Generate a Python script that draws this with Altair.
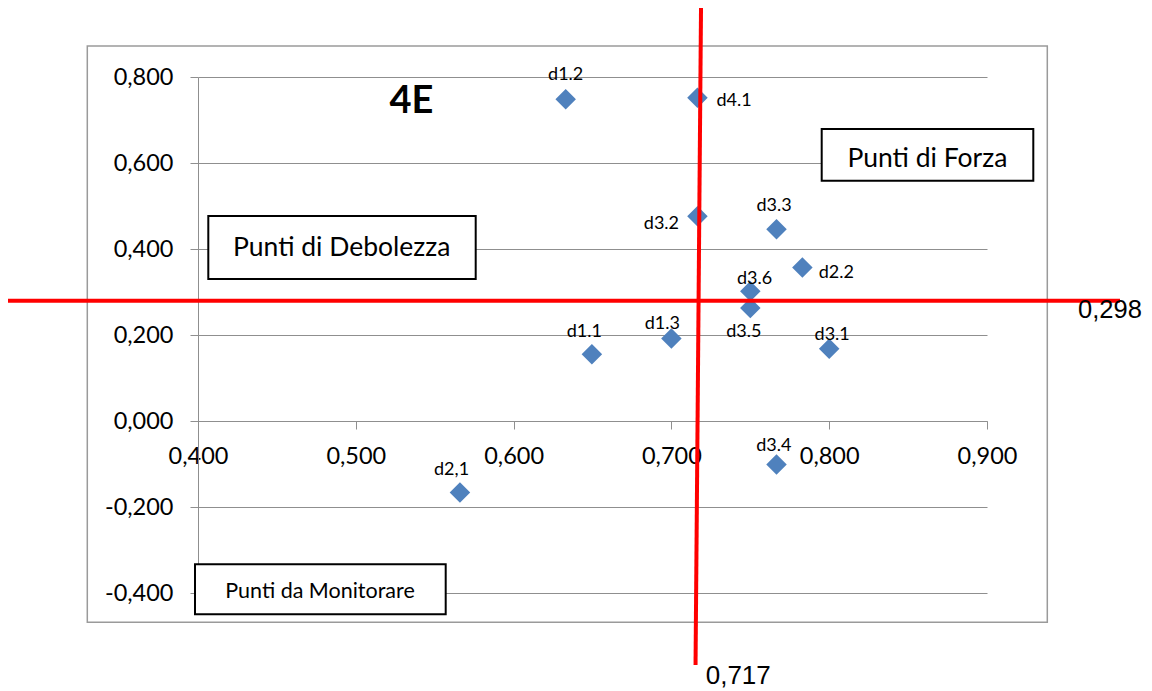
import altair as alt
import pandas as pd

# ---------------- data ----------------
labels = ["d1.2", "d4.1", "d3.2", "d3.3", "d2.2", "d3.6", "d3.5", "d3.1", "d1.1", "d1.3", "d3.4", "d2,1"]
x_vals = [0.633, 0.7165, 0.7165, 0.7666, 0.783, 0.750, 0.750, 0.800, 0.6496, 0.700, 0.7666, 0.566]
y_vals = [0.748, 0.752, 0.476, 0.446, 0.357, 0.302, 0.263, 0.168, 0.155, 0.192, -0.101, -0.1665]
x_ticks = [0.4, 0.5, 0.6, 0.7, 0.8, 0.9]
y_ticks = [-0.4, -0.2, 0.0, 0.2, 0.4, 0.6, 0.8]
threshold_x = 0.717
threshold_y = 0.298
title_text = "4E"
box_forza = "Punti di Forza"
box_debolezza = "Punti di Debolezza"
box_monitorare = "Punti da Monitorare"

# ---------------- layout ----------------
W, H = 789, 516
X_DOM = [0.4, 0.9]
Y_DOM = [-0.4, 0.8]
PX_X = W / (X_DOM[1] - X_DOM[0])
PX_Y = H / (Y_DOM[1] - Y_DOM[0])
GRAY = "#8f8f8f"
BLUE = "#4F81BD"
FONT = "Lato"

# label offsets in pixels (text centre / baseline relative to the marker)
label_offsets = {
    "d1.2": (0, -19), "d4.1": (36.6, 8.4), "d3.2": (-36, 12.3), "d3.3": (-2.4, -18.3),
    "d2.2": (34, 10.4), "d3.6": (4.3, -7.4), "d3.5": (-6.4, 29), "d3.1": (3, -8.3),
    "d1.1": (-7.6, -17.3), "d1.3": (-9, -9.3), "d3.4": (-2.7, -13.6), "d2,1": (-8.4, -17.3),
}

df = pd.DataFrame({"label": labels, "x": x_vals, "y": y_vals})
df["lx"] = [x + label_offsets[l][0] / PX_X for l, x in zip(labels, x_vals)]
df["ly"] = [y - label_offsets[l][1] / PX_Y for l, y in zip(labels, y_vals)]

one = alt.Data(values=[{}])

label_expr = "(datum.value < 0 ? '-' : '') + replace(format(abs(datum.value), '.3f'), '.', ',')"

xscale = alt.Scale(domain=X_DOM, nice=False, zero=False)
yscale = alt.Scale(domain=Y_DOM, nice=False, zero=False)

x_axis = alt.Axis(values=x_ticks, labelExpr=label_expr, offset=-172, title=None, grid=False,
                  labelFont=FONT, labelFontSize=23.5, labelColor="black", labelPadding=15,
                  labelFlush=False, labelOverlap=False, tickSize=8, tickColor=GRAY,
                  domainColor=GRAY, tickWidth=1, domainWidth=1)
y_axis = alt.Axis(values=y_ticks, labelExpr=label_expr, title=None, grid=True, gridColor=GRAY,
                  gridWidth=1, gridOpacity=1,
                  labelFont=FONT, labelFontSize=23.5, labelColor="black", labelPadding=17,
                  labelFlush=False, labelOverlap=False, tickSize=8, tickColor=GRAY,
                  domainColor=GRAY, tickWidth=1, domainWidth=1)

# chart-area frame
frame = alt.Chart(one).mark_rect(fill=None, stroke="#9a9a9a", strokeWidth=1.5).encode(
    x=alt.value(-110.7), x2=alt.value(849.3), y=alt.value(-31), y2=alt.value(545.3))

points = alt.Chart(df).mark_point(shape="diamond", filled=True, size=420, color=BLUE, opacity=1).encode(
    x=alt.X("x:Q", scale=xscale, axis=x_axis),
    y=alt.Y("y:Q", scale=yscale, axis=y_axis),
)

point_labels = alt.Chart(df).mark_text(font=FONT, fontSize=18, color="black", align="center",
                                       baseline="alphabetic").encode(
    x=alt.X("lx:Q", scale=xscale), y=alt.Y("ly:Q", scale=yscale), text="label:N")

red_v = alt.Chart(one).mark_rule(color="#ff0000", strokeWidth=4, xOffset=2.8, x2Offset=-2.7).encode(
    x=alt.datum(threshold_x), x2=alt.datum(threshold_x), y=alt.value(-70), y2=alt.value(588))
red_h = alt.Chart(one).mark_rule(color="#ff0000", strokeWidth=4, yOffset=8).encode(
    y=alt.datum(threshold_y), x=alt.value(-192), x2=alt.value(922))

lab_v = alt.Chart(one).mark_text(font="Liberation Sans", fontSize=26, align="left",
                                 baseline="alphabetic", dx=7.5, color="black").encode(
    x=alt.datum(threshold_x), y=alt.value(607),
    text=alt.value(f"{threshold_x:.3f}".replace(".", ",")))
lab_h = alt.Chart(one).mark_text(font="Liberation Sans", fontSize=25.5, align="left",
                                 baseline="alphabetic", dy=25, color="black").encode(
    x=alt.value(880), y=alt.datum(threshold_y),
    text=alt.value(f"{threshold_y:.3f}".replace(".", ",")))

def box(x1, x2, y1, y2):
    return alt.Chart(one).mark_rect(fill="white", stroke="black", strokeWidth=2).encode(
        x=alt.value(x1), x2=alt.value(x2), y=alt.value(y1), y2=alt.value(y2))

def box_text(txt, cx, by, size):
    return alt.Chart(one).mark_text(font=FONT, fontSize=size, align="center",
                                    baseline="alphabetic", color="black").encode(
        x=alt.value(cx), y=alt.value(by), text=alt.value(txt))

b1 = box(623.7, 835.3, 52, 103.7)
t1 = box_text(box_forza, 729.4, 89.7, 26.5)
b2 = box(10.3, 277.7, 139, 202)
t2 = box_text(box_debolezza, 143.7, 178.7, 26.5)
b3 = box(-3, 247.7, 487.3, 537.3)
t3 = box_text(box_monitorare, 122, 521, 21.5)

title = alt.Chart(one).mark_text(font=FONT, fontSize=38, fontWeight="bold", align="center",
                                 baseline="alphabetic", color="black").encode(
    x=alt.value(213.5), y=alt.value(36), text=alt.value(title_text))

chart = alt.layer(frame, points, point_labels, red_v, red_h, lab_v, lab_h,
                  b1, t1, b2, t2, b3, t3, title).properties(
    width=W, height=H,
    autosize=alt.AutoSizeParams(type="none"),
    padding={"left": 190, "top": 69, "right": 156, "bottom": 96},
).configure_view(strokeWidth=0)

chart.save("out.html", embed_options={"renderer": "svg", "actions": False})
